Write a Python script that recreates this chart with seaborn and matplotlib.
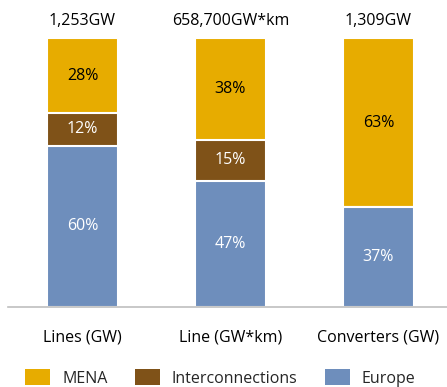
import numpy as np
import pandas as pd
import matplotlib
matplotlib.use("Agg")
import matplotlib.pyplot as plt
import seaborn as sns
from matplotlib.patches import Patch

categories = ["Lines (GW)", "Line (GW*km)", "Converters (GW)"]
totals = ["1,253GW", "658,700GW*km", "1,309GW"]
europe = [60, 47, 37]
interconnections = [12, 15, 0]
mena = [28, 38, 63]

colors = {"MENA": "#E7AC00", "Interconnections": "#7F5218", "Europe": "#6E8EBC"}

sns.set_style("white")
plt.rcParams["font.family"] = ["Open Sans", "DejaVu Sans"]
FS = 11.5

df = pd.DataFrame({"category": categories, "Europe": europe,
                   "Interconnections": interconnections, "MENA": mena})
df["cum_inter"] = df["Europe"] + df["Interconnections"]
df["cum_mena"] = df["cum_inter"] + df["MENA"]

fig = plt.figure(figsize=(4.47, 3.87), dpi=100)
ax = fig.add_axes([8 / 447, 80 / 387, 439 / 447, 269 / 387])

# stacked bars drawn as overlapping cumulative totals
for col, name in [("cum_mena", "MENA"), ("cum_inter", "Interconnections"), ("Europe", "Europe")]:
    sns.barplot(data=df, x="category", y=col, color=colors[name], width=0.48,
                edgecolor="white", linewidth=1.5, saturation=1, ax=ax)

ax.set_xlim(-0.503, 2.463)
ax.set_ylim(0, 100)
ax.set_xlabel("")
ax.set_ylabel("")
ax.set_yticks([])
ax.set_xticks([])
for s in ["left", "right", "top"]:
    ax.spines[s].set_visible(False)
ax.spines["bottom"].set_color("#BFBFBF")
ax.spines["bottom"].set_linewidth(1.2)

for i in range(len(categories)):
    e, it, m = europe[i], interconnections[i], mena[i]
    ax.text(i, e / 2, f"{e}%", ha="center", va="center", color="white", fontsize=FS)
    if it > 0:
        ax.text(i, e + it / 2, f"{it}%", ha="center", va="center", color="white", fontsize=FS)
    ax.text(i, e + it + m / 2, f"{m}%", ha="center", va="center", color="black", fontsize=FS)
    ax.text(i, 106.5, totals[i], ha="center", va="center", color="black", fontsize=FS, clip_on=False)
    ax.text(i, -11.5, categories[i], ha="center", va="center", color="black", fontsize=FS, clip_on=False)

handles = [Patch(facecolor=colors[n], edgecolor="none") for n in ["MENA", "Interconnections", "Europe"]]
fig.legend(handles, ["MENA", "Interconnections", "Europe"], loc="center",
           bbox_to_anchor=(0.493, 1 - 378 / 387), ncol=3, frameon=False, fontsize=FS,
           handlelength=1.56, handleheight=1.1, columnspacing=1.7, handletextpad=0.75)

fig.savefig("out.png", dpi=100)
